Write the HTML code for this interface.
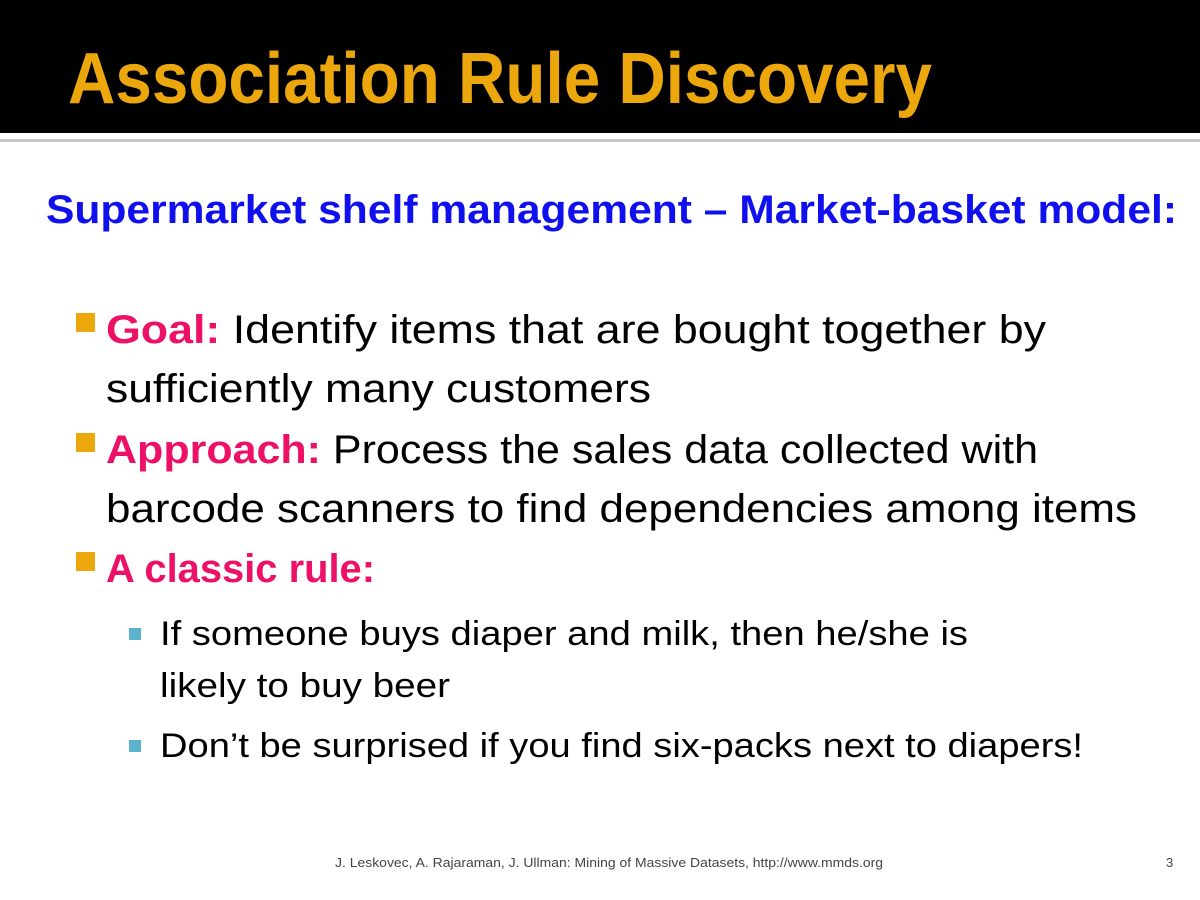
<!DOCTYPE html>
<html><head><meta charset="utf-8"><style>
html,body{margin:0;padding:0;background:#fff;}
svg{display:block;}
text{font-family:"Liberation Sans",sans-serif;}
</style></head><body>
<svg width="1200" height="900" viewBox="0 0 1200 900">
  <rect x="0" y="0" width="1200" height="133" fill="#000"/>
  <rect x="0" y="139" width="1200" height="3" fill="#c8c8c8"/>
  <text x="68" y="103" font-size="72" font-weight="bold" fill="#eba70c" textLength="864" lengthAdjust="spacingAndGlyphs">Association Rule Discovery</text>

  <text x="46" y="223" font-size="40" font-weight="bold" fill="#1010ee" textLength="1131" lengthAdjust="spacingAndGlyphs">Supermarket shelf management – Market-basket model:</text>

  <rect x="76" y="313" width="19" height="19" fill="#eba70c"/>
  <text x="106" y="343" font-size="40" textLength="940" lengthAdjust="spacingAndGlyphs"><tspan fill="#ec1166" font-weight="bold">Goal:</tspan><tspan fill="#000"> Identify items that are bought together by</tspan></text>
  <text x="106" y="402" font-size="40" fill="#000" textLength="545" lengthAdjust="spacingAndGlyphs">sufficiently many customers</text>

  <rect x="76" y="433" width="19" height="19" fill="#eba70c"/>
  <text x="106" y="463" font-size="40" textLength="932" lengthAdjust="spacingAndGlyphs"><tspan fill="#ec1166" font-weight="bold">Approach:</tspan><tspan fill="#000"> Process the sales data collected with</tspan></text>
  <text x="106" y="522" font-size="40" fill="#000" textLength="1031" lengthAdjust="spacingAndGlyphs">barcode scanners to find dependencies among items</text>

  <rect x="76" y="552" width="19" height="19" fill="#eba70c"/>
  <text x="106" y="582" font-size="40" font-weight="bold" fill="#ec1166" textLength="269" lengthAdjust="spacingAndGlyphs">A classic rule:</text>

  <rect x="129" y="628" width="12" height="12" fill="#5bb3cc"/>
  <text x="160" y="645" font-size="34" fill="#000" textLength="808" lengthAdjust="spacingAndGlyphs">If someone buys diaper and milk, then he/she is</text>
  <text x="160" y="697" font-size="34" fill="#000" textLength="290" lengthAdjust="spacingAndGlyphs">likely to buy beer</text>

  <rect x="129" y="740" width="12" height="12" fill="#5bb3cc"/>
  <text x="160" y="757" font-size="34" fill="#000" textLength="923" lengthAdjust="spacingAndGlyphs">Don’t be surprised if you find six-packs next to diapers!</text>

  <text x="335" y="867" font-size="13" fill="#444" textLength="548" lengthAdjust="spacingAndGlyphs">J. Leskovec, A. Rajaraman, J. Ullman: Mining of Massive Datasets, http://www.mmds.org</text>
  <text x="1166" y="867" font-size="13" fill="#444">3</text>
</svg>
</body></html>
